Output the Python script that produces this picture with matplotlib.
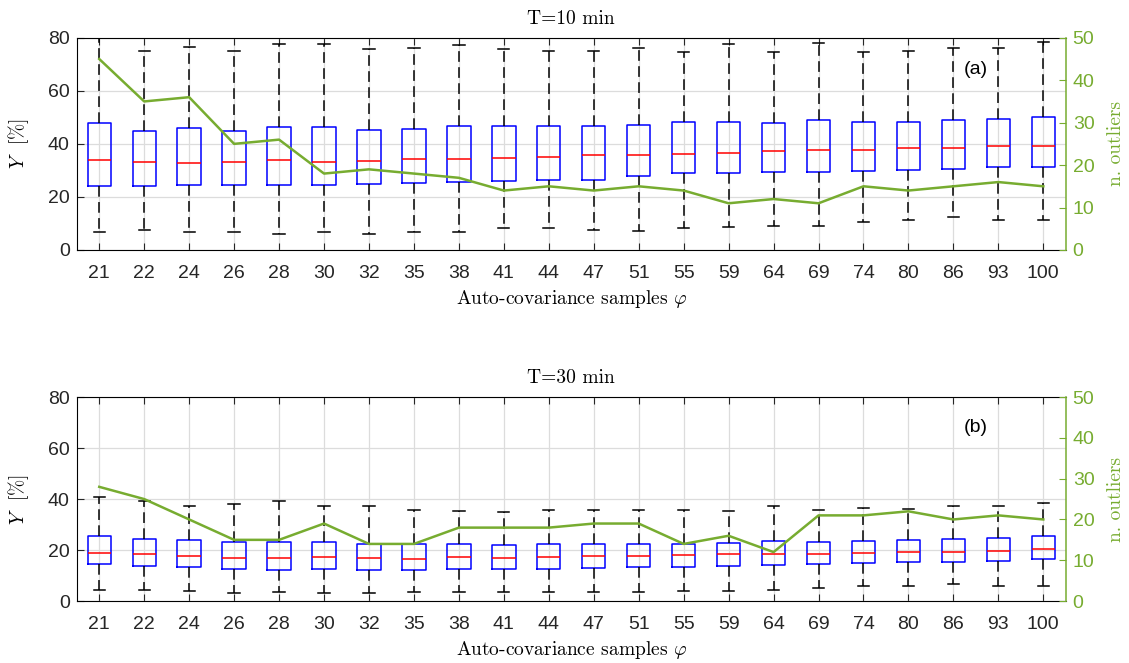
import numpy as np
import matplotlib.pyplot as plt

plt.rcParams['mathtext.fontset'] = 'cm'
plt.rcParams['font.family'] = ['Liberation Sans', 'DejaVu Sans']

phi = [21, 22, 24, 26, 28, 30, 32, 35, 38, 41, 44, 47, 51, 55, 59, 64, 69, 74, 80, 86, 93, 100]

# T = 10 min
a_q1 = [24.2, 24.2, 24.4, 24.4, 24.4, 24.4, 24.8, 25.2, 25.6, 26.1, 26.5, 26.5, 27.7, 28.9, 29.0,
        29.5, 29.5, 29.9, 30.1, 30.5, 31.1, 31.2]
a_med = [33.9, 33.0, 32.9, 33.1, 34.0, 33.3, 33.6, 34.4, 34.4, 34.8, 35.1, 35.7, 35.7, 36.2, 36.7,
         37.4, 37.8, 37.7, 38.3, 38.6, 39.1, 39.3]
a_q3 = [47.9, 44.7, 46.0, 45.0, 46.2, 46.4, 45.1, 45.7, 46.9, 46.6, 46.6, 46.6, 47.2, 48.1, 48.4,
        47.9, 48.9, 48.1, 48.3, 48.9, 49.4, 50.1]
a_lo = [6.9, 7.6, 6.9, 6.6, 5.9, 6.7, 6.2, 6.7, 6.7, 8.2, 8.4, 7.6, 7.3, 8.2, 8.7,
        9.2, 9.2, 10.5, 11.3, 12.5, 11.3, 11.3]
a_hi = [83.0, 75.0, 76.5, 75.2, 77.7, 77.7, 75.8, 76.2, 77.2, 75.6, 75.0, 75.0, 76.0, 74.6, 77.7,
        74.7, 78.1, 74.7, 75.2, 76.0, 76.2, 78.4]
a_out = [45, 35, 36, 25, 26, 18, 19, 18, 17, 14, 15, 14, 15, 14, 11, 12, 11, 15, 14, 15, 16, 15]

# T = 30 min
b_q1 = [14.5, 13.9, 13.3, 12.5, 12.3, 12.5, 12.3, 12.3, 12.5, 12.5, 12.7, 13.1, 13.2, 13.3, 13.9,
        14.1, 14.5, 14.9, 15.2, 15.4, 15.8, 16.5]
b_med = [19.0, 18.4, 17.5, 17.0, 17.0, 17.4, 16.9, 16.5, 17.3, 17.0, 17.3, 17.6, 17.6, 17.9, 18.3,
         18.6, 18.6, 19.0, 19.2, 19.2, 19.7, 20.4]
b_q3 = [25.6, 24.4, 23.8, 23.3, 23.3, 23.0, 22.5, 22.2, 22.2, 22.1, 22.4, 22.5, 22.5, 22.5, 22.9,
        23.5, 23.0, 23.5, 23.8, 24.2, 24.7, 25.5]
b_lo = [4.4, 4.2, 3.8, 3.0, 3.5, 3.3, 3.3, 3.5, 3.5, 3.5, 3.5, 3.5, 3.5, 3.8, 3.8,
        4.4, 5.1, 5.8, 5.8, 6.7, 5.9, 5.8]
b_hi = [41.0, 39.2, 37.4, 38.2, 39.2, 37.1, 37.4, 35.9, 35.3, 34.9, 35.6, 35.6, 35.6, 35.9, 35.3,
        37.3, 35.9, 36.5, 36.2, 37.3, 37.3, 38.6]
b_out = [28, 25, 20, 15, 15, 19, 14, 14, 18, 18, 18, 19, 19, 14, 16, 12, 21, 21, 22, 20, 21, 20]

green = '#77AC30'
tick_col = '#262626'


def panel(ax, title, q1, med, q3, lo, hi, n_out, tag):
    pos = np.arange(1, len(phi) + 1)
    stats = [dict(med=m, q1=a, q3=b, whislo=l, whishi=h, fliers=[])
             for a, m, b, l, h in zip(q1, med, q3, lo, hi)]
    ax.set_axisbelow(True)
    ax.grid(True, color='#dcdcdc', lw=0.9)
    ax.bxp(stats, positions=pos, widths=0.52, capwidths=0.25, showfliers=False,
           boxprops=dict(color='blue', lw=1.1),
           medianprops=dict(color='red', lw=1.1),
           whiskerprops=dict(color='black', ls=(0, (7, 3.5)), lw=1.1),
           capprops=dict(color='black', lw=1.1))
    ax.set_xlim(0.5, len(phi) + 0.5)
    ax.set_ylim(0, 80)
    ax.set_yticks([0, 20, 40, 60, 80])
    ax.set_xticks(pos)
    ax.set_xticklabels([str(p) for p in phi])
    ax.tick_params(direction='in', length=5, labelsize=14, colors=tick_col, top=True)
    ax.tick_params(axis='x', pad=11)
    ax.tick_params(axis='y', pad=5)
    ax.spines['right'].set_visible(False)
    ax.set_title(title, fontname='cmr10', fontsize=14, pad=10)
    ax.set_xlabel(r'Auto-covariance samples $\varphi$', fontname='cmr10', fontsize=14, labelpad=4)
    ax.set_ylabel(r'$Y$  [%]', fontname='cmr10', fontsize=14, labelpad=12)
    ax.text(20.5, 68, tag, fontsize=14, color='black', ha='center', va='center')

    ax2 = ax.twinx()
    ax2.plot(pos, n_out, color=green, lw=1.8)
    ax2.set_ylim(0, 50)
    ax2.set_yticks([0, 10, 20, 30, 40, 50])
    ax2.tick_params(direction='in', length=5, labelsize=14, colors=green, pad=5)
    for s in ['left', 'top', 'bottom']:
        ax2.spines[s].set_visible(False)
    ax2.spines['right'].set_color(green)
    ax2.spines['right'].set_linewidth(1.1)
    ax2.set_ylabel('n. outliers', fontname='cmr10', fontsize=14, color=green, labelpad=9)


fig = plt.figure(figsize=(11.29, 6.63), dpi=100)
ax_a = fig.add_axes([0.068, 0.623, 0.876, 0.320])
ax_b = fig.add_axes([0.068, 0.0935, 0.876, 0.3075])

panel(ax_a, 'T=10 min', a_q1, a_med, a_q3, a_lo, a_hi, a_out, '(a)')
panel(ax_b, 'T=30 min', b_q1, b_med, b_q3, b_lo, b_hi, b_out, '(b)')

fig.savefig('out.png', dpi=100)
